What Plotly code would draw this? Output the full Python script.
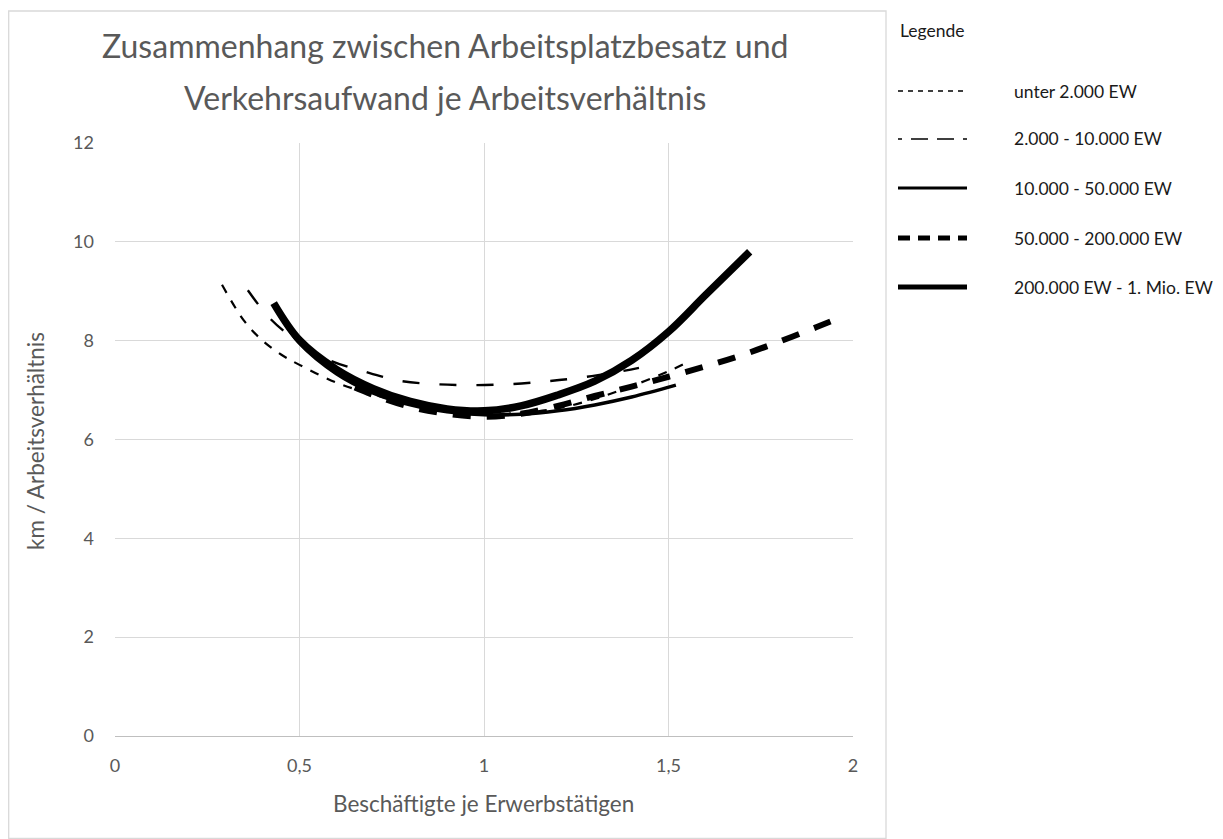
import plotly.graph_objects as go

# ---------------- data ----------------
series_names = ["unter 2.000 EW", "2.000 - 10.000 EW", "10.000 - 50.000 EW",
                "50.000 - 200.000 EW", "200.000 EW - 1. Mio. EW"]

x_s1 = [0.29, 0.35, 0.40, 0.45, 0.50, 0.60, 0.70, 0.80, 0.90, 1.00, 1.10, 1.20, 1.30, 1.40, 1.50, 1.54]
y_s1 = [9.13, 8.40, 8.00, 7.72, 7.51, 7.15, 6.91, 6.72, 6.58, 6.52, 6.54, 6.63, 6.82, 7.08, 7.38, 7.52]

x_s2 = [0.36, 0.42, 0.49, 0.58, 0.67, 0.77, 0.87, 0.97, 1.07, 1.16, 1.25, 1.35, 1.42]
y_s2 = [9.02, 8.45, 8.01, 7.61, 7.39, 7.19, 7.12, 7.10, 7.12, 7.17, 7.24, 7.35, 7.45]

x_s3 = [0.44, 0.50, 0.60, 0.70, 0.80, 0.90, 1.00, 1.10, 1.20, 1.30, 1.40, 1.52]
y_s3 = [8.60, 7.95, 7.33, 6.94, 6.70, 6.56, 6.50, 6.51, 6.58, 6.70, 6.86, 7.10]

x_s4 = [0.65, 0.70, 0.80, 0.90, 1.00, 1.10, 1.20, 1.30, 1.40, 1.50, 1.60, 1.70, 1.80, 1.90, 1.95]
y_s4 = [7.05, 6.90, 6.66, 6.52, 6.46, 6.52, 6.68, 6.88, 7.07, 7.27, 7.48, 7.71, 7.98, 8.27, 8.42]

x_s5 = [0.43, 0.50, 0.60, 0.70, 0.80, 0.90, 1.00, 1.10, 1.20, 1.30, 1.40, 1.50, 1.60, 1.72]
y_s5 = [8.76, 8.01, 7.42, 7.03, 6.77, 6.62, 6.58, 6.68, 6.90, 7.18, 7.60, 8.18, 8.92, 9.80]

x_ticks = [0, 0.5, 1, 1.5, 2]
y_ticks = [0, 2, 4, 6, 8, 10, 12]

title_lines = ["Zusammenhang zwischen Arbeitsplatzbesatz und",
               "Verkehrsaufwand je Arbeitsverhältnis"]
x_title = "Beschäftigte je Erwerbstätigen"
y_title = "km / Arbeitsverhältnis"
legend_title = "Legende"

# ---------------- styling ----------------
OFF = 8                     # page body margin of the html page
W, H = 1223 - OFF, 839 - OFF
# plot area in screen pixels (reference) -> figure pixels
PL, PR, PT, PB = 115 - OFF, 853 - OFF, 143 - OFF, 736 - OFF
FONT = "Lato"
GREY = "#595959"

styles = [
    dict(width=2.2, dash="9px,9px"),
    dict(width=2.4, dash="17px,20px"),
    dict(width=3.5, dash="solid"),
    dict(width=6, dash="18px,16px"),
    dict(width=7.5, dash="solid"),
]
legend_styles = [
    dict(width=1.6, dash="5px,5px"),
    dict(width=1.6, dash="4px,9px,17px,9px,17px,9px,4px"),
    dict(width=3, dash="solid"),
    dict(width=5, dash="12px,8px"),
    dict(width=5, dash="solid"),
]


def px_x(p):
    """screen pixel x -> paper coordinate"""
    return (p - OFF - PL) / (PR - PL)


def px_y(p):
    """screen pixel y -> paper coordinate"""
    return (PB - (p - OFF)) / (PB - PT)


fig = go.Figure()
xs = [x_s1, x_s2, x_s3, x_s4, x_s5]
ys = [y_s1, y_s2, y_s3, y_s4, y_s5]
for name, xv, yv, st in zip(series_names, xs, ys, styles):
    fig.add_trace(go.Scatter(
        x=xv, y=yv, mode="lines", name=name, showlegend=False,
        line=dict(color="black", width=st["width"], dash=st["dash"], shape="spline", smoothing=1.0),
        hoverinfo="skip"))

shapes = []
annotations = []

# outer chart border
shapes.append(dict(type="rect", xref="paper", yref="paper",
                   x0=px_x(8.7), x1=px_x(886), y0=px_y(838.5), y1=px_y(11),
                   line=dict(color="#d9d9d9", width=1.3), fillcolor="rgba(0,0,0,0)", layer="below"))

# title (two lines)
for txt, cy in zip(title_lines, [46, 97]):
    annotations.append(dict(text=txt, xref="paper", yref="paper", x=px_x(445), y=px_y(cy),
                            xanchor="center", yanchor="middle", showarrow=False,
                            font=dict(family=FONT, size=32, color=GREY)))

# axis titles
annotations.append(dict(text=x_title, xref="paper", yref="paper", x=px_x(483), y=px_y(803),
                        xanchor="center", yanchor="middle", showarrow=False,
                        font=dict(family=FONT, size=22.5, color=GREY)))
annotations.append(dict(text=y_title, xref="paper", yref="paper", x=px_x(35), y=px_y(441),
                        xanchor="center", yanchor="middle", showarrow=False, textangle=-90,
                        font=dict(family=FONT, size=22.5, color=GREY)))

# legend (drawn manually to mimic the reference)
annotations.append(dict(text=legend_title, xref="paper", yref="paper", x=px_x(898), y=px_y(31),
                        xanchor="left", yanchor="middle", showarrow=False,
                        font=dict(family=FONT, size=17.5, color="#1a1a1a")))
legend_y = [91, 139, 188, 238, 287]
for name, ly, st in zip(series_names, legend_y, legend_styles):
    shapes.append(dict(type="line", xref="paper", yref="paper",
                       x0=px_x(898), x1=px_x(967), y0=px_y(ly), y1=px_y(ly),
                       line=dict(color="black", width=st["width"], dash=st["dash"])))
    annotations.append(dict(text=name, xref="paper", yref="paper", x=px_x(1012), y=px_y(ly),
                            xanchor="left", yanchor="middle", showarrow=False,
                            font=dict(family=FONT, size=17.5, color="#1a1a1a")))

fig.update_layout(
    width=W, height=H,
    margin=dict(l=PL, r=W - PR, t=PT, b=H - PB, autoexpand=False),
    paper_bgcolor="white", plot_bgcolor="white",
    separators=",.",
    showlegend=False,
    shapes=shapes, annotations=annotations,
    font=dict(family=FONT, color=GREY),
)
fig.update_xaxes(range=[0, 2], tickvals=x_ticks, showgrid=True, gridcolor="#d9d9d9", gridwidth=1,
                 zeroline=False, showline=True, linecolor="#bfbfbf", linewidth=1,
                 tickfont=dict(family=FONT, size=18, color=GREY), ticklabelstandoff=13,
                 fixedrange=True)
fig.update_yaxes(range=[0, 12], tickvals=y_ticks, showgrid=True, gridcolor="#d9d9d9", gridwidth=1,
                 zeroline=False, showline=False,
                 tickfont=dict(family=FONT, size=18, color=GREY), ticklabelstandoff=20,
                 fixedrange=True)

fig.write_html("out.html")
